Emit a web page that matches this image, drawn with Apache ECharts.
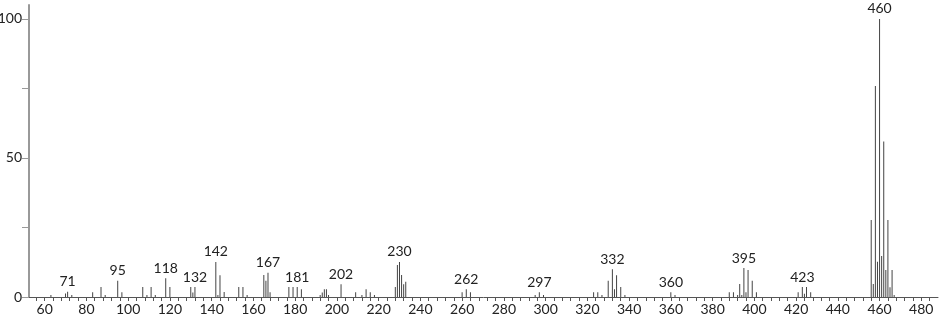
<!DOCTYPE html>
<html><head><meta charset="utf-8">
<script src="https://cdn.jsdelivr.net/npm/echarts@6/dist/echarts.min.js"></script>
<style>html,body{margin:0;padding:0;background:#fff}#c{width:940px;height:320px}</style>
</head><body><div id="c"></div>
<script>
// m/z of each peak
const mz = [63,70,71,73,83,87,89,95,97,107,109,111,113,118,120,130,131,132,
  142,143,144,146,153,155,157,165,166,167,168,177,179,181,183,
  192,193,194,195,196,202,209,212,214,216,218,
  228,229,230,231,232,233,260,262,264,295,297,299,
  323,325,327,330,332,333,334,336,338,360,362,
  388,390,392,393,394,395,396,397,399,401,
  421,423,424,425,427,
  456,457,458,459,460,461,462,463,464,465,466,467];
// relative intensity (%)
const intensity = [0.7,1.3,1.9,0.7,1.7,3.6,0.7,5.8,1.7,3.6,0.7,3.6,0.7,6.7,3.6,3.6,1.6,3.6,
  12.6,0.7,7.8,1.8,3.6,3.6,0.7,7.9,5.8,8.7,1.7,3.6,3.6,3.6,2.8,
  0.7,1.6,2.8,2.8,0.7,4.6,1.7,0.7,2.8,1.7,0.7,
  3.6,11.5,12.6,7.9,4.6,5.5,1.7,2.8,1.7,0.7,1.7,0.7,
  1.7,1.7,0.7,5.8,10,2.8,7.8,3.6,0.7,1.7,0.7,
  1.7,1.7,0.7,4.7,0.7,10.4,1.7,9.7,5.8,1.7,
  1.7,3.6,1.2,3.6,1.7,
  27.7,4.7,75.9,12.7,100,14.7,55.9,9.7,27.7,3.5,9.7,0.7];
const labeledPeaks = [71,95,118,132,142,167,181,202,230,262,297,332,360,395,423,460];
const xTickLabels = [60,80,100,120,140,160,180,200,220,240,260,280,300,320,340,360,380,400,420,440,460,480];
const xTicks = [56,60,64,68,72,76,80,84,88,92,96,100,104,108,112,116,120,124,128,132,136,140,144,148,152,156,160,
  164,168,172,176,180,184,188,192,196,200,204,208,212,216,220,224,228,232,236,240,244,248,252,256,260,264,268,272,276,280,
  284,288,292,296,300,304,308,312,316,320,324,328,332,336,340,344,348,352,356,360,364,368,372,376,380,384,388,392,396,400,
  404,408,412,416,420,424,428,432,436,440,444,448,452,456,460,464,468,472,476,480,484];
const yTicks = [0,25,50,75,100];
const yTickLabels = [0,50,100];

const FONT = 'Lato';
const chart = echarts.init(document.getElementById('c'));
chart.setOption({
  animation: false,
  backgroundColor: '#fff',
  grid: {left: 29, right: 2, top: 5, bottom: 23, containLabel: false, outerBoundsMode: 'none'},
  xAxis: {
    type: 'value', min: 52.5, max: 488,
    axisLine: {show: true, lineStyle: {color: '#555', width: 1}},
    axisTick: {show: true, customValues: xTicks, length: 4, lineStyle: {color: '#555'}},
    axisLabel: {customValues: xTickLabels, margin: 5, fontSize: 14, fontFamily: FONT, color: '#222'},
    splitLine: {show: false}
  },
  yAxis: {
    type: 'value', min: 0, max: 105,
    axisLine: {show: true, lineStyle: {color: '#999', width: 2}},
    axisTick: {show: true, customValues: yTicks, length: 7, lineStyle: {color: '#999'}},
    axisLabel: {customValues: yTickLabels, margin: 7, fontSize: 14, fontFamily: FONT, color: '#222'},
    splitLine: {show: false}
  },
  series: [{
    type: 'bar',
    barWidth: 1,
    itemStyle: {color: '#444'},
    label: {show: false, position: 'top', distance: 3, fontSize: 14, fontFamily: FONT, color: '#222',
      formatter: p => String(p.value[0])},
    data: mz.map((m, i) => ({value: [m, intensity[i]], label: {show: labeledPeaks.includes(m)}}))
  }]
});
</script></body></html>
